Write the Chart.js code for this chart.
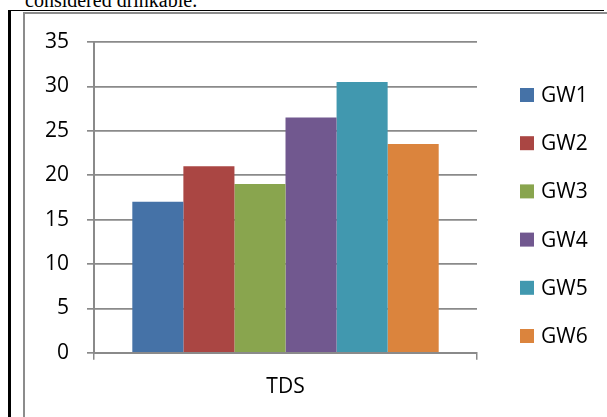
<!DOCTYPE html>
<html>
<head>
<meta charset="utf-8">
<script src="https://cdn.jsdelivr.net/npm/chart.js@4/dist/chart.umd.min.js"></script>
<style>
  html, body { margin: 0; padding: 0; background: #fff; }
  body { width: 607px; height: 417px; overflow: hidden; position: relative; }
  #para { position: absolute; left: 25px; top: -11px; font: 20px "Liberation Serif", "Times New Roman", serif; color: #000; white-space: nowrap; }
  #cell { position: absolute; left: 8px; top: 10px; width: 593px; height: 450px; border-left: 3px solid #000; border-top: 1px solid #000; }
  #frame { position: absolute; left: 23px; top: 12px; width: 600px; height: 450px; border-left: 2px solid #8c8c8c; border-top: 2px solid #8c8c8c; }
  #c { position: absolute; left: 0; top: 0; }
</style>
</head>
<body>
<div id="para">considered drinkable.</div>
<div id="cell"></div>
<div id="frame"></div>
<canvas id="c" width="607" height="417"></canvas>
<script>
// Total dissolved solids per groundwater sample
const categories = ['TDS'];
const seriesNames = ['GW1', 'GW2', 'GW3', 'GW4', 'GW5', 'GW6'];
const seriesValues = [17, 21, 19, 26.5, 30.5, 23.5];
const seriesColors = ['#4572A7', '#AA4643', '#89A54E', '#71588F', '#4198AF', '#DB843D'];
const yTicks = [0, 5, 10, 15, 20, 25, 30, 35];

const FONT = '"Open Sans", "Liberation Sans", Arial, sans-serif';
const AXIS_GREY = '#8a8a8a';

// Legend drawn to the right of the plot, one square + label per series
const sideLegend = {
  id: 'sideLegend',
  afterDraw(chart) {
    const { ctx, chartArea } = chart;
    const x0 = chartArea.right + 43;
    const y0 = chartArea.top + 53;
    const step = 48.2;
    const box = 14;
    ctx.save();
    ctx.font = '21px ' + FONT;
    ctx.textBaseline = 'middle';
    ctx.textAlign = 'left';
    chart.data.datasets.forEach((ds, i) => {
      const cy = y0 + i * step;
      ctx.fillStyle = ds.backgroundColor;
      ctx.fillRect(x0, cy - box / 2, box, box);
      ctx.fillStyle = '#000';
      ctx.fillText(ds.label, x0 + box + 7, cy + 1);
    });
    ctx.restore();
  }
};

const datasets = seriesNames.map((name, i) => ({
  label: name,
  data: [seriesValues[i]],
  backgroundColor: seriesColors[i],
  borderWidth: 0,
  barPercentage: 1.0,
  categoryPercentage: 0.8
}));

new Chart(document.getElementById('c'), {
  type: 'bar',
  data: { labels: categories, datasets },
  options: {
    responsive: false,
    animation: false,
    devicePixelRatio: 1,
    layout: { padding: { left: 27, right: 130, top: 42, bottom: 2 } },
    plugins: {
      legend: { display: false },
      tooltip: { enabled: false }
    },
    scales: {
      x: {
        grid: { display: true, drawOnChartArea: false, drawTicks: true, tickLength: 7, color: AXIS_GREY, lineWidth: 1.5, offset: true },
        border: { display: true, color: AXIS_GREY, width: 2 },
        ticks: { color: '#000', font: { family: FONT, size: 21 }, padding: 15 }
      },
      y: {
        min: 0,
        max: 35,
        afterBuildTicks(scale) { scale.ticks = yTicks.map(v => ({ value: v })); },
        grid: { display: true, drawOnChartArea: true, drawTicks: true, tickLength: 7, color: AXIS_GREY, lineWidth: 1.7 },
        border: { display: true, color: AXIS_GREY, width: 2 },
        ticks: { color: '#000', font: { family: FONT, size: 21 }, padding: 18 }
      }
    }
  },
  plugins: [sideLegend]
});
</script>
</body>
</html>
